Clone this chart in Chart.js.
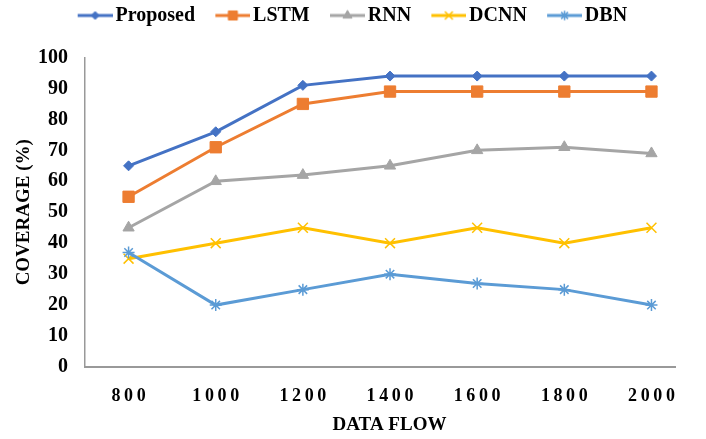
<!DOCTYPE html>
<html>
<head>
<meta charset="utf-8">
<script src="https://cdn.jsdelivr.net/npm/chart.js@4.4.1/dist/chart.umd.min.js"></script>
<style>
    html, body { margin: 0; padding: 0; background: #fff; }
</style>
</head>
<body>
<canvas id="chart" width="706" height="439"></canvas>
<script>
// data
const dataFlow = [800, 1000, 1200, 1400, 1600, 1800, 2000]
const yTicks = [0, 10, 20, 30, 40, 50, 60, 70, 80, 90, 100]

const proposed = [65, 76, 91, 94, 94, 94, 94]
const lstm = [55, 71, 85, 89, 89, 89, 89]
const rnn = [45, 60, 62, 65, 70, 71, 69]
const dcnn = [35, 40, 45, 40, 45, 40, 45]
const dbn = [37, 20, 25, 30, 27, 25, 20]

const seriesNames = ['Proposed', 'LSTM', 'RNN', 'DCNN', 'DBN']
const seriesValues = [proposed, lstm, rnn, dcnn, dbn]
const seriesColors = ['#4472C4', '#ED7D31', '#A5A5A5', '#FFC000', '#5B9BD5']
const seriesMarkers = [
    { style: 'rectRot', radius: 5, border: 1 },
    { style: 'rect', radius: 8, border: 1 },
    { style: 'triangle', radius: 6.5, border: 1 },
    { style: 'crossRot', radius: 7, border: 1.5 },
    { style: 'star', radius: 6, border: 1.5 }
]

const serif = "'Liberation Serif', 'Times New Roman', serif"

// little line + marker picture for the legend, like the Excel legend key
const legendKey = (color, marker) => {
    const c = document.createElement('canvas')
    c.width = 57
    c.height = 16
    const ctx = c.getContext('2d')
    ctx.strokeStyle = color
    ctx.fillStyle = color
    ctx.lineWidth = 3
    ctx.beginPath()
    ctx.moveTo(c.width - 35, 8)
    ctx.lineTo(c.width, 8)
    ctx.stroke()
    ctx.lineWidth = marker.border
    Chart.helpers.drawPoint(ctx, {
        pointStyle: marker.style,
        radius: marker.radius * 0.8,
        borderWidth: marker.border,
        rotation: 0
    }, c.width - 17.5, 8)
    return c
}

const datasets = seriesNames.map((name, i) => ({
    label: name,
    data: seriesValues[i].map((v, j) => ({ x: dataFlow[j], y: v })),
    borderColor: seriesColors[i],
    backgroundColor: seriesColors[i],
    borderWidth: 3,
    pointStyle: seriesMarkers[i].style,
    pointRadius: seriesMarkers[i].radius,
    pointBorderWidth: seriesMarkers[i].border,
    tension: 0,
    order: seriesNames.length - i
}))

new Chart(document.getElementById('chart'), {
    type: 'line',
    data: { datasets },
    options: {
        responsive: false,
        animation: false,
        events: [],
        layout: { padding: { top: 0, right: 31, bottom: 0, left: 15 } },
        plugins: {
            tooltip: { enabled: false },
            legend: {
                position: 'top',
                weight: 1000,
                labels: {
                    usePointStyle: true,
                    pointStyleWidth: 42.5,
                    padding: 5.5,
                    color: '#000',
                    font: { family: serif, size: 20, weight: 'bold' },
                    sort: (a, b) => a.datasetIndex - b.datasetIndex,
                    generateLabels: chart => Chart.defaults.plugins.legend.labels.generateLabels(chart).map(item => {
                        const i = item.datasetIndex
                        item.pointStyle = legendKey(seriesColors[i], seriesMarkers[i])
                        return item
                    })
                }
            },
            // empty spacer between legend and plot
            title: {
                display: true,
                text: '',
                weight: 500,
                font: { size: 10 },
                padding: { top: 0, bottom: 10 }
            }
        },
        scales: {
            x: {
                type: 'linear',
                min: 700,
                max: 2054,
                afterBuildTicks: scale => { scale.ticks = dataFlow.map(v => ({ value: v })) },
                afterFit: scale => { scale.height = 72 },
                grid: { display: false, drawTicks: false },
                border: { display: true, color: '#999', width: 2 },
                ticks: {
                    padding: 19,
                    color: '#000',
                    font: { family: serif, size: 18, weight: 'bold' },
                    callback: v => String(v).split('').join('\u2009')
                },
                title: {
                    display: true,
                    text: '\u2003DATA FLOW',
                    color: '#000',
                    font: { family: serif, size: 19, weight: 'bold' },
                    padding: { top: 0, bottom: 3 }
                }
            },
            y: {
                min: 0,
                max: 100,
                afterBuildTicks: scale => { scale.ticks = yTicks.map(v => ({ value: v })) },
                afterFit: scale => { scale.width = 70 },
                grid: { display: false, drawTicks: false },
                border: { display: true, color: '#999', width: 1.5 },
                ticks: {
                    padding: 17,
                    color: '#000',
                    font: { family: serif, size: 20, weight: 'bold' }
                },
                title: {
                    display: true,
                    text: 'COVERAGE (%)',
                    color: '#000',
                    font: { family: serif, size: 19, weight: 'bold' },
                    padding: { top: -2.4, bottom: 0 }
                }
            }
        }
    }
})
</script>
</body>
</html>
